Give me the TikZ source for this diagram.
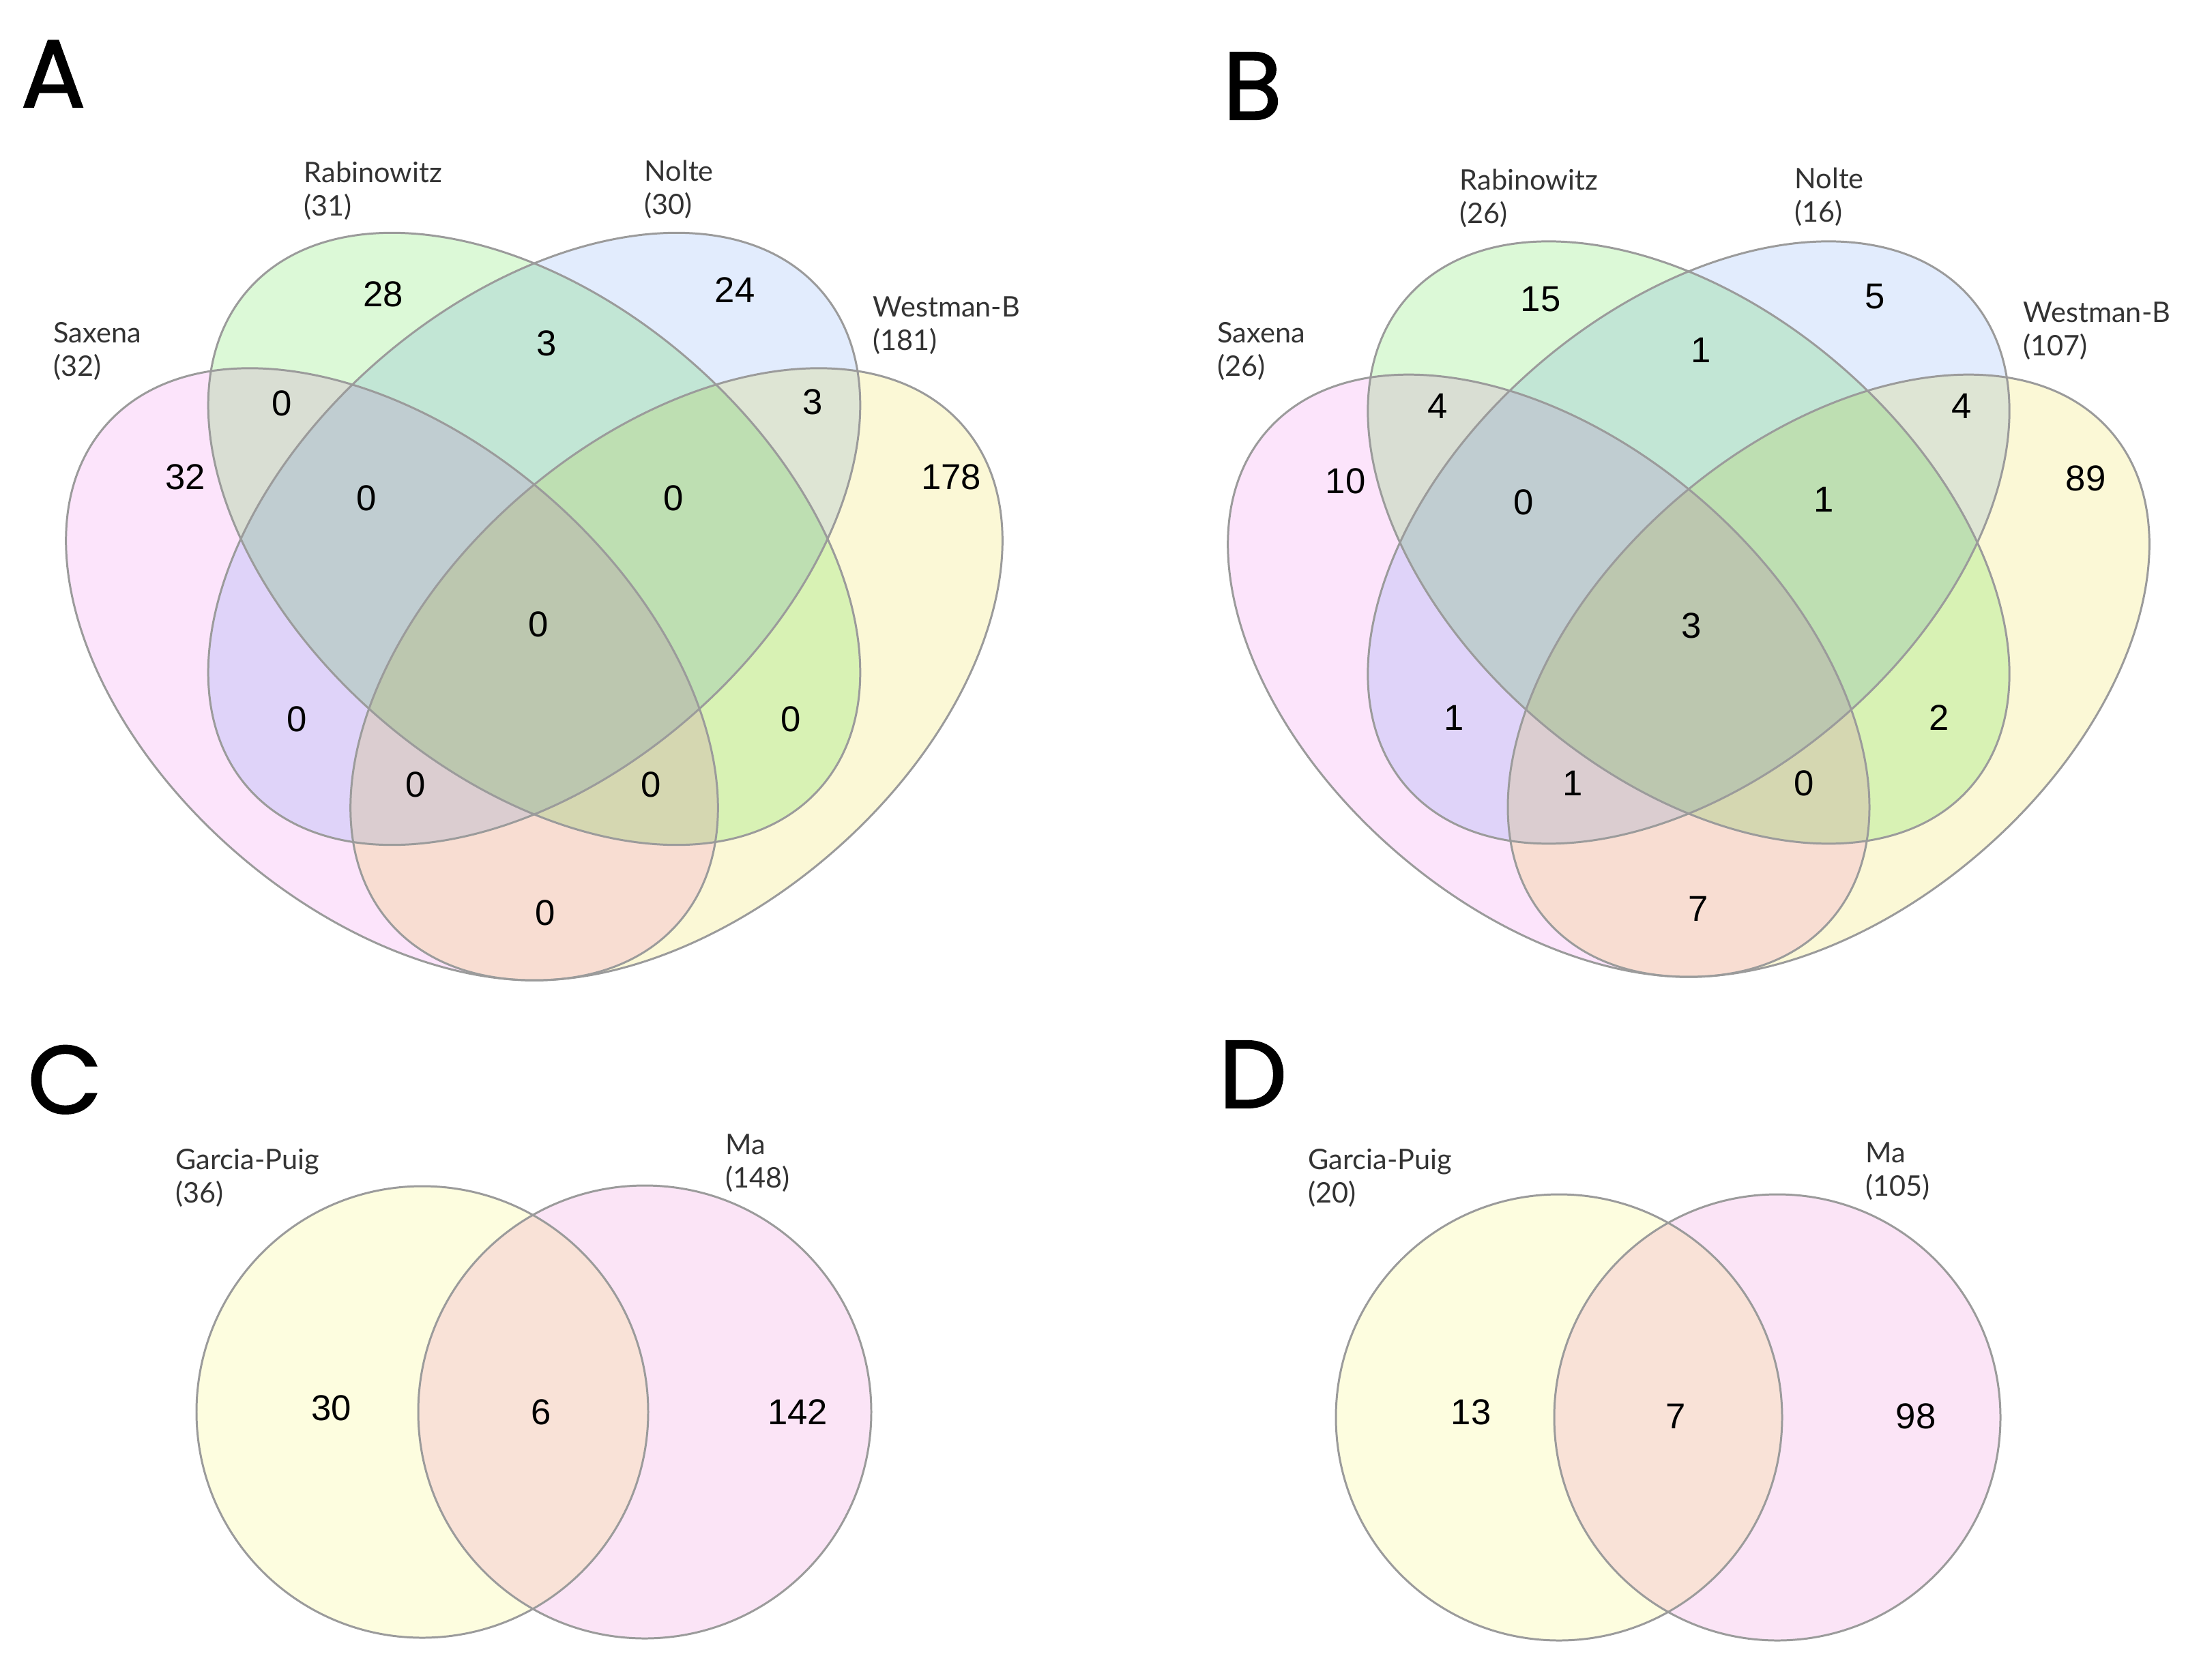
\documentclass[tikz,border=0pt]{standalone}
\usepackage{fontspec}
\setmainfont{Liberation Sans}
\newfontfamily\labelfont{Lato}
\newfontfamily\panelfont{Poppins}[FakeBold=1.6]
\usepackage{tikz}
\usetikzlibrary{positioning}
\definecolor{saxpink}{HTML}{FCE4FB}
\definecolor{rabgreen}{HTML}{DCF9D7}
\definecolor{noltblue}{HTML}{E2ECFD}
\definecolor{westyellow}{HTML}{FBF8D6}
\definecolor{gpyellow}{HTML}{FDFDDF}
\definecolor{mapink}{HTML}{FBE4F6}
\definecolor{linegray}{HTML}{9B9B9B}
\definecolor{labelgray}{HTML}{333333}

\begin{document}
\begin{tikzpicture}[
  num/.style={font=\fontsize{15}{18}\selectfont, inner sep=0pt},
  setlabel/.style={font=\labelfont\fontsize{11.8}{13.8}\selectfont, text=labelgray,
                   align=left, anchor=base west, inner sep=0pt},
  panel/.style={font=\panelfont\fontsize{40}{40}\selectfont, anchor=base west, inner sep=0pt},
  vennline/.style={draw=linegray, line width=0.85pt}
]
  \useasboundingbox (0,0) rectangle (32.04,-24.62);

  % ===== Panels A and B: four-set ellipses =====
  \foreach \px/\py/\s in {7.83/-14.37/1, 24.75/-14.32/0.984} {
    \begin{scope}[shift={(\px,\py)}, scale=\s]
      \begin{scope}[blend group=multiply]
        \foreach \cx/\cy/\ang/\col in {-2.085/4.485/-40.9/saxpink, 0/6.47/-40.9/rabgreen,
                                       0/6.47/40.9/noltblue, 2.085/4.485/40.9/westyellow}
          \fill[\col, rotate around={\ang:(\cx,\cy)}] (\cx,\cy) ellipse [x radius=5.56, y radius=3.47];
      \end{scope}
      \foreach \cx/\cy/\ang in {-2.085/4.485/-40.9, 0/6.47/-40.9, 0/6.47/40.9, 2.085/4.485/40.9}
        \draw[vennline, rotate around={\ang:(\cx,\cy)}] (\cx,\cy) ellipse [x radius=5.56, y radius=3.47];
    \end{scope}
  }

  % ===== Panels C and D: two-set circles =====
  \begin{scope}[blend group=multiply]
    \fill[gpyellow] (6.19,-20.70) circle (3.31);
    \fill[mapink] (9.45,-20.70) circle (3.32);
    \fill[gpyellow] (22.85,-20.78) circle (3.27);
    \fill[mapink] (26.05,-20.78) circle (3.27);
  \end{scope}
  \draw[vennline] (6.19,-20.70) circle (3.31);
  \draw[vennline] (9.45,-20.70) circle (3.32);
  \draw[vennline] (22.85,-20.78) circle (3.27);
  \draw[vennline] (26.05,-20.78) circle (3.27);

  % Panel letters
  \node[panel] (pA) at (0.30,-1.57) {A};
  \node[panel] (pB) at (17.92,-1.75) {B};
  \node[panel] (pC) at (0.40,-16.32) {C};
  \node[panel] (pD) at (17.86,-16.24) {D};

  % Set names with sizes (base = second line)
  \foreach \x/\y/\name/\n [count=\k] in {4.45/-3.16/Rabinowitz/31, 9.44/-3.14/Nolte/30,
      0.78/-5.51/Saxena/32, 12.79/-5.13/Westman-B/181,
      21.39/-3.27/Rabinowitz/26, 26.30/-3.25/Nolte/16,
      17.84/-5.51/Saxena/26, 29.65/-5.21/Westman-B/107,
      2.57/-17.63/Garcia-Puig/36, 10.63/-17.41/Ma/148,
      19.17/-17.63/Garcia-Puig/20, 27.34/-17.53/Ma/105}
    \node[setlabel] (lab\k) at (\x,\y) {\name\\(\n)};

  % Region counts - panel A
  \foreach \x/\y/\val [count=\k] in {5.62/-4.31/28, 10.77/-4.25/24, 8.01/-5.03/3, 4.13/-5.91/0,
      11.91/-5.89/3, 2.72/-6.99/32, 5.37/-7.30/0, 9.87/-7.30/0, 13.94/-6.99/178,
      7.89/-9.15/0, 4.35/-10.54/0, 11.59/-10.54/0, 6.09/-11.50/0, 9.54/-11.50/0, 7.99/-13.38/0}
    \node[num] (nA\k) at (\x,\y) {\val};

  % Region counts - panel B
  \foreach \x/\y/\val [count=\k] in {22.58/-4.39/15, 27.48/-4.35/5, 24.93/-5.13/1, 21.07/-5.95/4,
      28.75/-5.95/4, 19.72/-7.05/10, 22.33/-7.36/0, 26.73/-7.32/1, 30.57/-7.01/89,
      24.79/-9.17/3, 21.31/-10.52/1, 28.42/-10.52/2, 23.05/-11.48/1, 26.44/-11.48/0, 24.89/-13.32/7}
    \node[num] (nB\k) at (\x,\y) {\val};

  % Region counts - panels C and D
  \foreach \x/\y/\val [count=\k] in {4.86/-20.64/30, 7.93/-20.70/6, 11.69/-20.70/142,
      21.56/-20.70/13, 24.56/-20.76/7, 28.08/-20.76/98}
    \node[num] (nC\k) at (\x,\y) {\val};
\end{tikzpicture}
\end{document}
